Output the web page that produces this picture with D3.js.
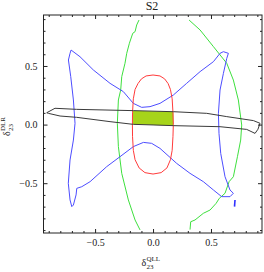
<!DOCTYPE html>
<html>
<meta charset="utf-8">
<head>
  <script src="https://d3js.org/d3.v7.min.js"></script>
  <style>
    body { margin: 0; background: #fff; }
    text { font-family: "Liberation Serif", "DejaVu Serif", serif; fill: #222; }
    .tick text { font-size: 10px; }
    .domain { display: none; }
    .tick line { stroke: #222; }
  </style>
</head>
<body>
<div id="chart"></div>
<script>
"use strict"

var width = 264, height = 272;

// tick labels
var majorTicks = [-0.5, 0, 0.5];
var minorTicks = [-0.9, -0.8, -0.7, -0.6, -0.4, -0.3, -0.2, -0.1, 0.1, 0.2, 0.3, 0.4, 0.6, 0.7, 0.8, 0.9];

// contours, [delta QLL, delta DLR]
var redContour = [[0, 0.423], [0.06, 0.415], [0.1, 0.39], [0.13, 0.35], [0.15, 0.3], [0.165, 0.22], [0.172, 0.1],
  [0.175, 0], [0.172, -0.1], [0.165, -0.22], [0.15, -0.3], [0.12, -0.37], [0.07, -0.41], [0, -0.422],
  [-0.07, -0.41], [-0.12, -0.37], [-0.155, -0.3], [-0.17, -0.22], [-0.177, -0.1], [-0.178, 0],
  [-0.177, 0.1], [-0.17, 0.22], [-0.155, 0.3], [-0.13, 0.35], [-0.1, 0.39], [-0.06, 0.415], [0, 0.423]];

var blackContour = [[-0.917, 0.101], [-0.846, 0.139], [-0.659, 0.130], [-0.17, 0.119], [0.175, 0.11], [0.463, 0.096],
  [0.636, 0.068], [0.866, 0.034], [0.923, 0.011], [0.905, -0.04], [0.88, -0.075], [0.808, -0.041], [0.578, -0.018],
  [0.175, -0.009], [0, -0.003], [-0.17, 0.002], [-0.371, 0.025], [-0.659, 0.062], [-0.802, 0.073], [-0.903, 0.096],
  [-0.917, 0.101]];

var greenLeft = [[-0.121, 0.892], [-0.141, 0.85], [-0.155, 0.793], [-0.175, 0.779], [-0.204, 0.694], [-0.227, 0.608],
  [-0.242, 0.523], [-0.27, 0.409], [-0.279, 0.295], [-0.299, 0.21], [-0.308, 0.011], [-0.299, -0.188],
  [-0.27, -0.416], [-0.213, -0.643], [-0.155, -0.814], [-0.112, -0.899]];

var greenRight = [[0.311, 0.892], [0.406, 0.807], [0.521, 0.665], [0.636, 0.523], [0.693, 0.38], [0.736, 0.21],
  [0.765, -0.004], [0.756, -0.132], [0.728, -0.274], [0.693, -0.445], [0.656, -0.487], [0.621, -0.586],
  [0.572, -0.629], [0.544, -0.672], [0.492, -0.729], [0.434, -0.757], [0.362, -0.814], [0.325, -0.829],
  [0.319, -0.896]];

var blueContour = [[-0.707, 0.636], [-0.63, 0.579], [-0.515, 0.466], [-0.371, 0.352], [-0.256, 0.281], [-0.17, 0.181],
  [-0.098, 0.147], [-0.026, 0.153], [0.06, 0.181], [0.175, 0.252], [0.29, 0.352], [0.406, 0.452], [0.521, 0.537],
  [0.578, 0.608], [0.607, 0.622], [0.65, 0.608], [0.636, 0.565], [0.607, 0.437], [0.578, 0.295], [0.564, 0.096],
  [0.569, -0.075], [0.584, -0.246], [0.621, -0.445], [0.664, -0.558], [0.693, -0.586], [0.664, -0.615],
  [0.592, -0.615], [0.521, -0.558], [0.434, -0.487], [0.319, -0.416], [0.204, -0.331], [0.06, -0.203],
  [-0.012, -0.16], [-0.083, -0.152], [-0.17, -0.188], [-0.285, -0.274], [-0.4, -0.359], [-0.543, -0.487],
  [-0.615, -0.53], [-0.658, -0.544], [-0.664, -0.6], [-0.687, -0.686], [-0.701, -0.7], [-0.716, -0.643],
  [-0.731, -0.501], [-0.716, -0.302], [-0.687, -0.132], [-0.673, 0.011], [-0.687, 0.21], [-0.71, 0.409],
  [-0.73, 0.551], [-0.716, 0.608], [-0.707, 0.636]];

var blueBit = [[0.707, -0.643], [0.703, -0.7]];

// allowed region (between black lines, inside red)
var allowedRegion = [[-0.175, 0.119], [0.175, 0.11], [0.175, -0.009], [-0.175, 0.002]];

var x0 = 43.5, x1 = 262, y0 = 15, y1 = 233;

var x = d3.scaleLinear().domain([-0.945, 0.94]).range([x0, x1]);
var y = d3.scaleLinear().domain([-0.925, 0.935]).range([y1, y0]);

var svg = d3.select("#chart")
    .append("svg")
    .attr("width", width)
    .attr("height", height);

svg.append("defs").append("clipPath")
    .attr("id", "clip")
  .append("rect")
    .attr("x", x0).attr("y", y0)
    .attr("width", x1 - x0).attr("height", y1 - y0);

var line = d3.line()
    .x(function(d) { return x(d[0]); })
    .y(function(d) { return y(d[1]); });

var plot = svg.append("g").attr("clip-path", "url(#clip)");

plot.append("path")
    .attr("d", line(allowedRegion) + "Z")
    .attr("fill", "#a6d41a")
    .attr("stroke", "none");

function curve(data, color, w) {
  plot.append("path")
      .attr("d", line(data))
      .attr("fill", "none")
      .attr("stroke", color)
      .attr("stroke-width", w)
      .attr("stroke-linejoin", "round");
}

curve(greenLeft, "#3ee03e", 1);
curve(greenRight, "#3ee03e", 1);
curve(blueContour, "#4d4dff", 1);
curve(blueBit, "#3030ff", 1.6);
curve(redContour, "#ff3b3b", 1);
curve(blackContour, "#3a3a3a", 1);

// frame
svg.append("rect")
    .attr("x", x0).attr("y", y0)
    .attr("width", x1 - x0).attr("height", y1 - y0)
    .attr("fill", "none")
    .attr("stroke", "#222")
    .attr("stroke-width", 1);

var fmt = d3.format(".1f");

function axes(axisFn, scale, pos, ticks, size, labels) {
  var a = axisFn(scale).tickValues(ticks).tickSize(-size).tickPadding(6)
      .tickFormat(labels ? fmt : "");
  svg.append("g").attr("transform", pos).call(a);
}

axes(d3.axisBottom, x, "translate(0," + y1 + ")", majorTicks, 4, true);
axes(d3.axisBottom, x, "translate(0," + y1 + ")", minorTicks, 2, false);
axes(d3.axisTop, x, "translate(0," + y0 + ")", majorTicks, 4, false);
axes(d3.axisTop, x, "translate(0," + y0 + ")", minorTicks, 2, false);
axes(d3.axisLeft, y, "translate(" + x0 + ",0)", majorTicks, 4, true);
axes(d3.axisLeft, y, "translate(" + x0 + ",0)", minorTicks, 2, false);
axes(d3.axisRight, y, "translate(" + x1 + ",0)", majorTicks, 4, false);
axes(d3.axisRight, y, "translate(" + x1 + ",0)", minorTicks, 2, false);

// title
svg.append("text")
    .attr("x", 152).attr("y", 10)
    .attr("text-anchor", "middle")
    .attr("font-size", 12)
    .text("S2");

// x label
var xl = svg.append("g").attr("transform", "translate(141.5,266)");
xl.append("text").attr("font-size", 10).text("δ");
xl.append("text").attr("x", 5).attr("y", 3).attr("font-size", 7).text("23");
xl.append("text").attr("x", 5).attr("y", -5).attr("font-size", 7).text("QLL");

// y label
var yl = svg.append("g").attr("transform", "translate(10,136) rotate(-90)");
yl.append("text").attr("font-size", 10).text("δ");
yl.append("text").attr("x", 5).attr("y", 3).attr("font-size", 7).text("23");
yl.append("text").attr("x", 5).attr("y", -5).attr("font-size", 7).text("DLR");

</script>
</body>
</html>
